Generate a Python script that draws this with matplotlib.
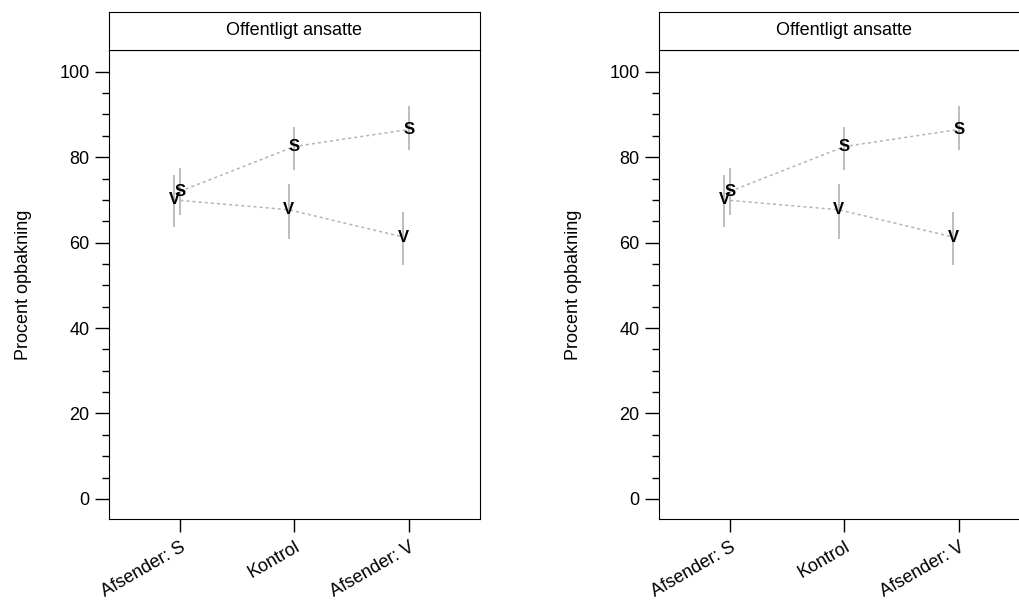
import numpy as np
import matplotlib
matplotlib.use("Agg")
import matplotlib.pyplot as plt

plt.rcParams["font.family"] = ["Liberation Sans", "DejaVu Sans"]

# data
categories = ["Afsender: S", "Kontrol", "Afsender: V"]
s_mean = [72.0, 82.5, 86.5]
s_low = [66.5, 77.0, 81.7]
s_high = [77.5, 87.0, 91.9]
v_mean = [70.0, 67.7, 61.3]
v_low = [63.7, 60.9, 54.8]
v_high = [75.9, 73.8, 67.1]
panel_title = "Offentligt ansatte"
ylab = "Procent opbakning"

x = np.arange(len(categories))
v_shift = -0.05

fig = plt.figure(figsize=(10.19, 6.08), dpi=100)

def draw_panel(left):
    ax = fig.add_axes([left, 0.1464, 0.364, 0.7714])
    strip = fig.add_axes([left, 0.9178, 0.364, 0.0625])
    strip.set_xticks([])
    strip.set_yticks([])
    strip.text(0.5, 0.5, panel_title, ha="center", va="center", fontsize=13)

    # error bars
    ax.vlines(x, s_low, s_high, color="#bdbdbd", lw=1.4)
    ax.vlines(x + v_shift, v_low, v_high, color="#bdbdbd", lw=1.4)
    # connecting lines
    ax.plot(x, s_mean, linestyle=(0, (2, 2)), color="#b5b5b5", lw=1.1)
    ax.plot(x + v_shift, v_mean, linestyle=(0, (2, 2)), color="#b5b5b5", lw=1.1)
    for xi, yi in zip(x, s_mean):
        ax.text(xi, yi, "S", ha="center", va="center", fontsize=12, fontweight="bold")
    for xi, yi in zip(x + v_shift, v_mean):
        ax.text(xi, yi, "V", ha="center", va="center", fontsize=12, fontweight="bold")

    ax.set_xlim(-0.62, 2.62)
    ax.set_ylim(-4.7, 105.1)
    ax.set_xticks(x)
    ax.set_xticklabels(categories, rotation=30, ha="right", rotation_mode="anchor", fontsize=13)
    ax.set_yticks([0, 20, 40, 60, 80, 100])
    ax.set_yticks(np.arange(0, 101, 5), minor=True)
    ax.tick_params(axis="y", which="major", length=10, width=1, labelsize=13, pad=4)
    ax.tick_params(axis="y", which="minor", length=5, width=1)
    ax.tick_params(axis="x", length=9, width=1, pad=5)
    ax.set_ylabel(ylab, fontsize=13, labelpad=20)
    return ax

draw_panel(0.107)
draw_panel(0.6467)

fig.savefig("out.png", dpi=100)
